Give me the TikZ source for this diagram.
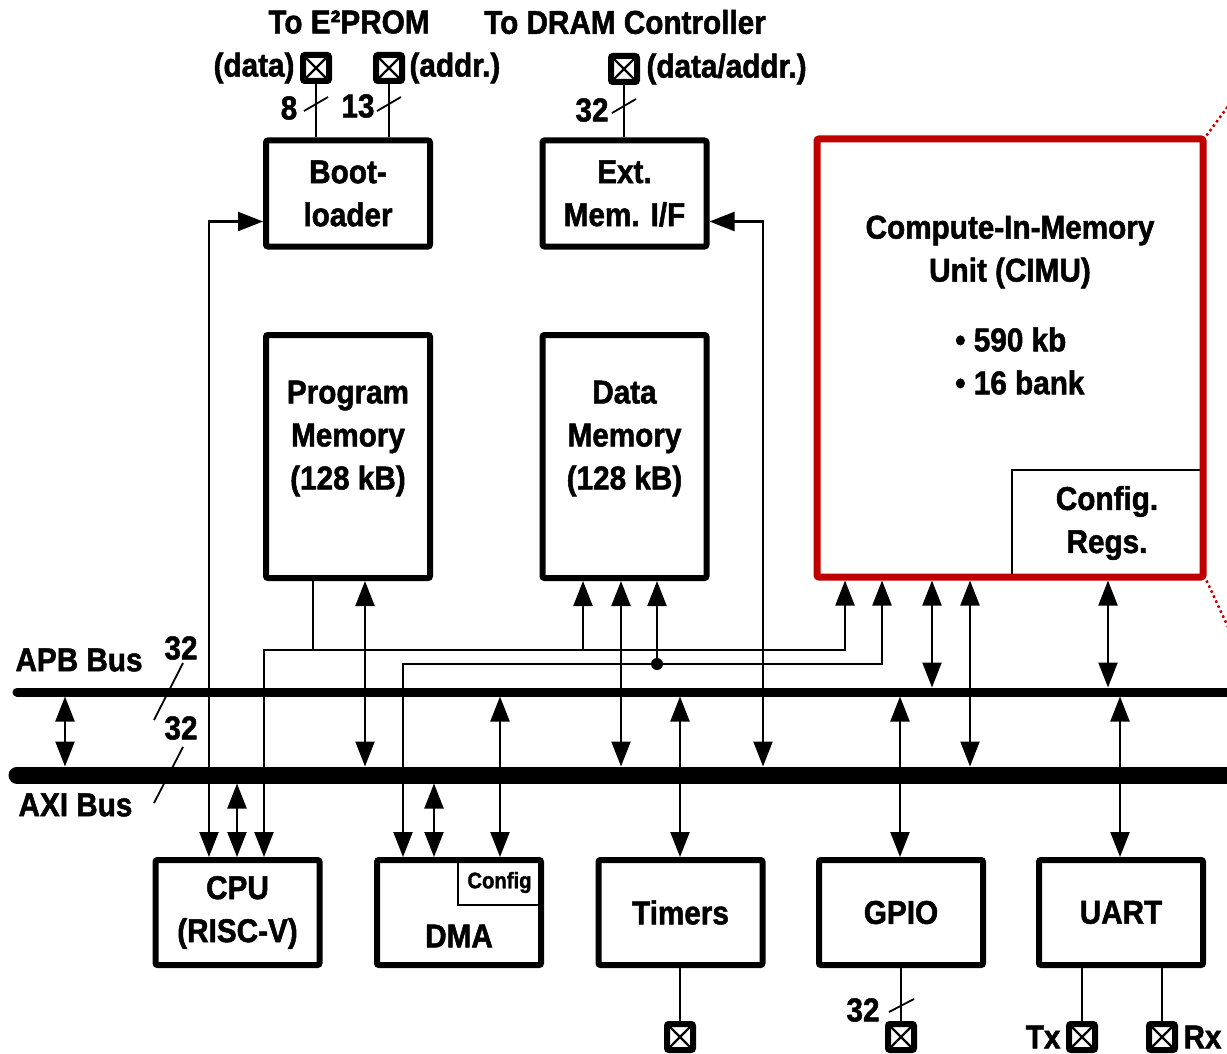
\documentclass[tikz,border=0pt]{standalone}
\usepackage{fontspec}
\setmainfont{Liberation Sans}[FakeStretch=0.9, FakeBold=1.5]
\usetikzlibrary{arrows.meta,calc}
\definecolor{cimured}{HTML}{C00000}
\newcommand{\ApbY}{692}
\newcommand{\AxiY}{775}
\newcommand{\NetA}{650}
\newcommand{\NetB}{664}

\begin{document}
\begin{tikzpicture}[
    x=1pt, y=-1pt,
    font=\bfseries\fontsize{33}{43}\selectfont,
    blk/.style={draw, line width=6pt, rounded corners=2pt, minimum width=164pt, minimum height=106pt, inner sep=0pt, align=center},
    sub/.style={draw, line width=2.5pt, inner sep=0pt, align=center},
    txt/.style={inner sep=0pt, align=center},
    wire/.style={line width=2.2pt},
    arr/.style={wire, -{Triangle[length=25pt, width=19pt]}},
    dbl/.style={wire, {Triangle[length=25pt, width=19pt]}-{Triangle[length=25pt, width=19pt]}},
    bus/.style={line cap=round},
    bits/.style={line width=1.8pt},
    pad/.style={draw, line width=6pt, rounded corners=2pt, fill=white, minimum size=26pt, inner sep=0pt,
      path picture={\draw[line width=2.2pt] (path picture bounding box.south west) -- (path picture bounding box.north east)
        (path picture bounding box.north west) -- (path picture bounding box.south east);}},
  ]
\useasboundingbox (0,0) rectangle (1227,1054);

% --- Blocks above the buses --------------------------------------------------
\node[blk] (boot) at (348,193.5) {Boot-\\loader};
\node[blk] (extmem) at (624.5,193.5) {Ext.\\Mem. I/F};
\node[blk, minimum height=243pt] (progmem) at (348,456.5) {};
\node[txt] at ([yshift=18pt]progmem.center) {Program\\Memory\\(128 kB)};
\node[blk, minimum height=243pt] (datamem) at (624.5,456.5) {};
\node[txt] at ([yshift=18pt]datamem.center) {Data\\Memory\\(128 kB)};

\node[sub, minimum width=190pt, minimum height=106pt] (regs) at (1107,523) {Config.\\Regs.};
\node[blk, draw=cimured, line width=7pt, minimum width=386pt, minimum height=438pt] (cimu) at (1010,358) {};
\node[txt] at (1010,252) {Compute-In-Memory\\Unit (CIMU)};
\node[txt, align=left, anchor=west] at (955,361) {• 590 kb\\• 16 bank};
\draw[cimured, line width=2.5pt, dash pattern=on 2.5pt off 3pt] (cimu.north east) -- (1240,90);
\draw[cimured, line width=2.5pt, dash pattern=on 2.5pt off 3pt] (cimu.south east) -- (1240,653);

% --- Off-chip pads at the top ------------------------------------------------
\node at (349,22) {To E²PROM};
\node at (625,22) {To DRAM Controller};
\node[pad] (pdata) at (316,68) {};
\node[pad] (paddr) at (389,68) {};
\node[pad] (pdram) at (624,69) {};
\node[anchor=east] at ([xshift=-2pt]pdata.west) {(data)};
\node[anchor=west] at ([xshift=1pt]paddr.east) {(addr.)};
\node[anchor=west] at ([xshift=3pt]pdram.east) {(data/addr.)};
\draw[wire] (pdata.south) -- (pdata |- boot.north);
\draw[wire] (paddr.south) -- (paddr |- boot.north);
\draw[wire] (pdram.south) -- (pdram |- extmem.north);
\draw[bits] (304,111) -- (328,97);
\draw[bits] (377,111) -- (401,97);
\draw[bits] (612,113) -- (636,99);
\node at (289,108) {8};
\node at (358,106) {13};
\node at (592,110) {32};

% --- The two buses -----------------------------------------------------------
\draw[bus, line width=9pt] (17,\ApbY) -- (1240,\ApbY);
\draw[bus, line width=17pt] (17,\AxiY) -- (1240,\AxiY);
\coordinate (apbT) at (0,\ApbY-4.5);
\coordinate (apbB) at (0,\ApbY+4.5);
\coordinate (axiT) at (0,\AxiY-8.5);
\coordinate (axiB) at (0,\AxiY+8.5);
\coordinate (netA) at (0,\NetA);
\coordinate (netB) at (0,\NetB);
\node[anchor=west] at (12,660) {APB Bus};
\node[anchor=west] at (15,805) {AXI Bus};
\draw[bits] (154,720) -- (183,663);
\draw[bits] (154,803) -- (183,747);
\node at (181,648) {32};
\node at (181,728) {32};

% --- Blocks below the buses --------------------------------------------------
\node[blk, minimum height=105pt] (cpu) at (237.5,912.5) {CPU\\(RISC-V)};
\node[sub, minimum width=83pt, minimum height=45pt, font=\bfseries\fontsize{22.5}{26}\selectfont] (dmacfg) at (499.5,882.5) {Config};
\node[blk, minimum height=105pt] (dma) at (459,912.5) {};
\node[txt] at (459,936) {DMA};
\node[blk, minimum height=105pt] (timers) at (680.5,912.5) {Timers};
\node[blk, minimum height=105pt] (gpio) at (901,912.5) {GPIO};
\node[blk, minimum height=105pt] (uart) at (1121,912.5) {UART};

% --- Pads at the bottom ------------------------------------------------------
\node[pad] (ptim) at (680,1037) {};
\node[pad] (pgpio) at (901,1037) {};
\node[pad] (ptx) at (1082,1037) {};
\node[pad] (prx) at (1162,1037) {};
\node[anchor=east] at ([xshift=-2pt]ptx.west) {Tx};
\node[anchor=west] at ([xshift=2pt]prx.east) {Rx};
\draw[wire] (ptim.north) -- (ptim |- timers.south);
\draw[wire] (pgpio.north) -- (pgpio |- gpio.south);
\draw[wire] (ptx.north) -- (ptx |- uart.south);
\draw[wire] (prx.north) -- (prx |- uart.south);
\draw[bits] (889,1012) -- (914,999);
\node at (863,1010) {32};

% --- Taps onto the buses -----------------------------------------------------
\foreach \n/\x in {bus/65, boot/209, cpub/237, cpuc/264, pm/313, pmbus/365, dmaa/403, dmab/434, dmac/500,
                   dmema/583, dmemb/621, dmemc/657, tim/680, ext/763, cia/845, cib/882, gpio/900,
                   cic/932, cid/970, regs/1108, uart/1120} {
  \coordinate (k\n) at (\x,0);
}
\draw[dbl] (kbus |- apbB) -- (kbus |- axiT);
\draw[dbl] (kboot |- cpu.north) |- ([yshift=-28pt]boot.west);
\draw[dbl] (kcpub |- axiB) -- (kcpub |- cpu.north);
\draw[dbl] (kcia |- cimu.south) |- (kcpuc |- netA) -- (kcpuc |- cpu.north);
\draw[wire] (kpm |- progmem.south) -- (kpm |- netA);
\draw[arr] (kdmema |- netA) -- (kdmema |- datamem.south);
\draw[dbl] (kpmbus |- progmem.south) -- (kpmbus |- axiT);
\draw[dbl] (kcib |- cimu.south) |- (kdmaa |- netB) -- (kdmaa |- dma.north);
\draw[arr] (kdmemc |- netB) -- (kdmemc |- datamem.south);
\fill (kdmemc |- netB) circle (6pt);
\draw[dbl] (kdmab |- axiB) -- (kdmab |- dma.north);
\draw[dbl] (kdmac |- apbB) -- (kdmac |- dma.north);
\draw[dbl] (kdmemb |- datamem.south) -- (kdmemb |- axiT);
\draw[dbl] (ktim |- apbB) -- (ktim |- timers.north);
\draw[dbl] ([yshift=-28pt]extmem.east) -| (kext |- axiT);
\draw[dbl] (kcic |- cimu.south) -- (kcic |- apbT);
\draw[dbl] (kcid |- cimu.south) -- (kcid |- axiT);
\draw[dbl] (kgpio |- apbB) -- (kgpio |- gpio.north);
\draw[dbl] (kregs |- cimu.south) -- (kregs |- apbT);
\draw[dbl] (kuart |- apbB) -- (kuart |- uart.north);

\end{tikzpicture}
\end{document}
